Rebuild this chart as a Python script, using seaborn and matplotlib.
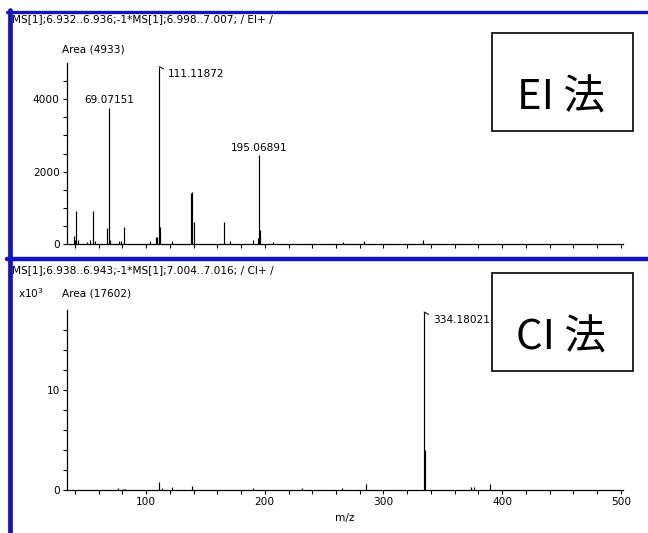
import matplotlib
matplotlib.use("Agg")
import matplotlib.pyplot as plt
import seaborn as sns
from matplotlib.lines import Line2D
from matplotlib.patches import Rectangle

# ===================== DATA =====================
# EI+ spectrum (m/z, intensity)
ei_mz = [39, 40, 41, 43, 50, 53, 55, 57, 67, 69.07151, 70, 77, 79, 81,
         103, 108, 109, 111.11872, 112, 122, 138, 139, 140, 166, 171,
         190, 194, 195.06891, 196, 207, 266, 284, 333]
ei_int = [230, 120, 900, 110, 60, 100, 925, 90, 450, 3750, 120, 80, 90, 470,
          90, 200, 180, 4900, 470, 80, 1400, 1450, 600, 620, 80,
          110, 170, 2450, 390, 60, 50, 90, 120]
ei_labels = ["69.07151", "111.11872", "195.06891"]

# CI+ spectrum (m/z, intensity)
ci_mz = [76, 80, 81, 82, 111, 113, 122, 139, 190, 231, 265, 285,
         334.18021, 335, 374, 376, 390]
ci_int = [200, 150, 150, 150, 770, 230, 330, 430, 200, 200, 200, 570,
          17800, 4000, 270, 270, 570]
ci_labels = ["334.18021"]

ei_header = "MS[1];6.932..6.936;-1*MS[1];6.998..7.007; / EI+ /"
ci_header = "MS[1];6.938..6.943;-1*MS[1];7.004..7.016; / CI+ /"
ei_area = "Area (4933)"
ci_area = "Area (17602)"

x_ticks = list(range(40, 501, 20))
x_labels = [str(t) if t % 100 == 0 else "" for t in x_ticks]
ei_yticks = list(range(0, 4501, 500))
ei_ylabels = [str(t) if t % 2000 == 0 else "" for t in ei_yticks]
ci_yticks = list(range(0, 16001, 2000))
ci_ylabels = [str(t // 1000) if t % 10000 == 0 else "" for t in ci_yticks]

BLUE = "#1212c8"
FS = 7.6

# ===================== PLOT =====================
sns.set_style("ticks")
plt.rcParams["font.family"] = ["DejaVu Sans"]
plt.rcParams["text.color"] = "black"
plt.rcParams["axes.labelcolor"] = "black"
plt.rcParams["xtick.color"] = "black"
plt.rcParams["ytick.color"] = "black"
plt.rcParams["axes.edgecolor"] = "black"
plt.rcParams["axes.linewidth"] = 0.9
plt.rcParams["xtick.major.width"] = 0.8
plt.rcParams["ytick.major.width"] = 0.8
plt.rcParams["xtick.major.size"] = 3
plt.rcParams["ytick.major.size"] = 3

fig = plt.figure(figsize=(6.48, 5.33), dpi=100)
W, H = 648, 533


def fx(px):
    return px / W


def fy(py):
    return 1 - py / H


ax_ei = fig.add_axes([fx(66.7), fy(244), fx(622.7) - fx(66.7), fy(63) - fy(244)])
ax_ci = fig.add_axes([fx(66.7), fy(490), fx(622.7) - fx(66.7), fy(310) - fy(490)])


def draw_spectrum(ax, mz, inten, ymax, yticks, ylabels, show_x):
    ax.vlines(mz, 0, inten, color="black", lw=0.85)
    ax.set_xlim(33.1, 501.6)
    ax.set_ylim(0, ymax)
    ax.set_xticks(x_ticks)
    ax.set_xticklabels(x_labels if show_x else [""] * len(x_ticks), fontsize=FS)
    ax.set_yticks(yticks)
    ax.set_yticklabels(ylabels, fontsize=FS)
    ax.tick_params(axis="both", direction="out", pad=2)
    sns.despine(ax=ax)


draw_spectrum(ax_ei, ei_mz, ei_int, 5000, ei_yticks, ei_ylabels, False)
draw_spectrum(ax_ci, ci_mz, ci_int, 18000, ci_yticks, ci_ylabels, True)
ax_ci.set_xlabel("m/z", fontsize=FS, labelpad=4)


def label_peaks(ax, mz, inten, labels, side):
    for lab in labels:
        i = mz.index(float(lab))
        if side.get(lab) == "right":
            # short diagonal leader from peak top to the label
            ax.annotate(lab, xy=(mz[i], inten[i]), xytext=(6.5, -5.5),
                        textcoords="offset points", ha="left", va="center",
                        fontsize=FS,
                        arrowprops=dict(arrowstyle="-", lw=0.7, color="black",
                                        relpos=(0, 0.8), shrinkA=1, shrinkB=0))
        else:
            ax.annotate(lab, xy=(mz[i], inten[i]), xytext=(0, 2),
                        textcoords="offset points", ha="center", va="bottom",
                        fontsize=FS)


label_peaks(ax_ei, ei_mz, ei_int, ei_labels, {"111.11872": "right"})
label_peaks(ax_ci, ci_mz, ci_int, ci_labels, {"334.18021": "right"})

# headers
fig.text(fx(12), fy(19), ei_header, fontsize=FS, va="center", ha="left")
fig.text(fx(62), fy(50), ei_area, fontsize=FS, va="center", ha="left")
fig.text(fx(12), fy(270), ci_header, fontsize=FS, va="center", ha="left")
fig.text(fx(18), fy(293), "x10$^3$", fontsize=FS, va="center", ha="left")
fig.text(fx(62), fy(293), ci_area, fontsize=FS, va="center", ha="left")

# method boxes
for top, bottom, base, txt in [(33, 131, 110, "EI 法"), (273, 371, 350, "CI 法")]:
    fig.add_artist(Rectangle((fx(492), fy(bottom)), fx(633) - fx(492), fy(top) - fy(bottom),
                             transform=fig.transFigure, fill=False, ec="black", lw=1.2))
    fig.text(fx(561), fy(base), txt, fontsize=30, ha="center", va="baseline",
             color="black", family=["Noto Sans CJK JP", "DejaVu Sans"])

# blue frame
fig.add_artist(Line2D([fx(7), 1], [fy(11.5), fy(11.5)], color=BLUE, lw=2.4,
                      transform=fig.transFigure))
fig.add_artist(Line2D([fx(7), 1], [fy(258.5), fy(258.5)], color=BLUE, lw=3.2,
                      transform=fig.transFigure))
fig.add_artist(Line2D([fx(10), fx(10)], [fy(10), 0], color=BLUE, lw=3.4,
                      transform=fig.transFigure))

fig.savefig("out.png", dpi=100)
